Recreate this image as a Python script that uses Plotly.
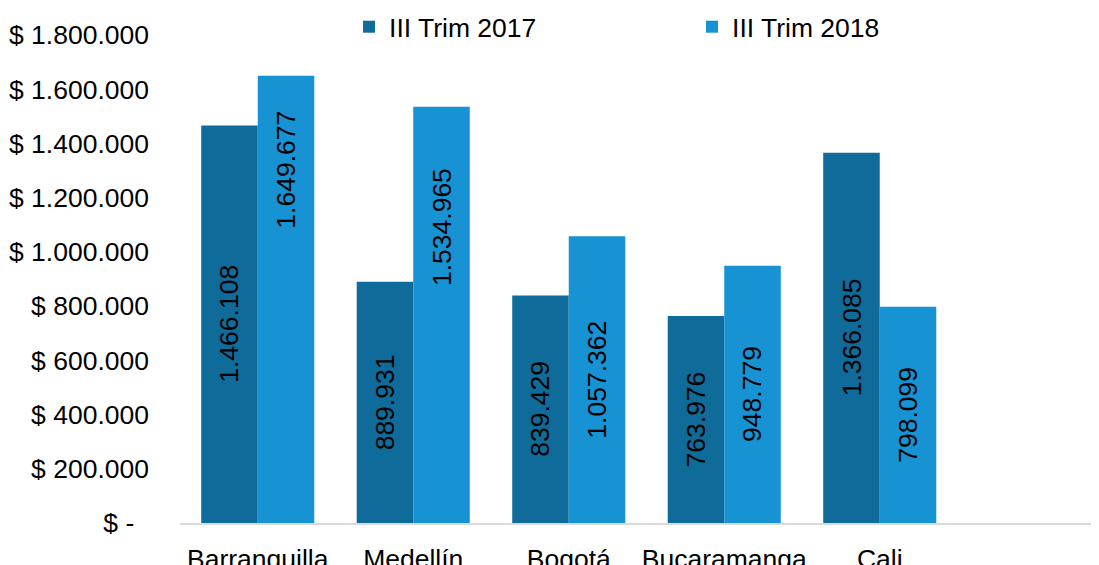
import plotly.graph_objects as go

categories = ["Barranquilla", "Medellín", "Bogotá", "Bucaramanga", "Cali"]
trim_2017 = [1466108, 889931, 839429, 763976, 1366085]
trim_2018 = [1649677, 1534965, 1057362, 948779, 798099]
series_names = ["III Trim 2017", "III Trim 2018"]
y_tickvals = [0, 200000, 400000, 600000, 800000, 1000000, 1200000, 1400000, 1600000, 1800000]
y_ticktext = ["$ -\u00a0\u00a0", "$ 200.000", "$ 400.000", "$ 600.000", "$ 800.000",
              "$ 1.000.000", "$ 1.200.000", "$ 1.400.000", "$ 1.600.000", "$ 1.800.000"]

# style: where the data label sits inside each bar (fraction of bar height)
label_frac_2017 = [0.5, 0.5, 0.5, 0.5, 0.5]
label_frac_2018 = [0.79, 0.71, 0.5, 0.5, 0.5]

DARK = "#0F6B99"
LIGHT = "#1792D2"
FONT = "Arial, Liberation Sans, sans-serif"
FS = 26.5


def fmt(v):
    return f"{v:,}".replace(",", ".")


fig = go.Figure()
fig.add_trace(go.Bar(x=categories, y=trim_2017, name=series_names[0],
                     marker=dict(color=DARK, line=dict(width=0))))
fig.add_trace(go.Bar(x=categories, y=trim_2018, name=series_names[1],
                     marker=dict(color=LIGHT, line=dict(width=0))))

annotations = []
for vals, fracs, shift in ((trim_2017, label_frac_2017, -28.25), (trim_2018, label_frac_2018, 28.25)):
    for c, v, f in zip(categories, vals, fracs):
        annotations.append(dict(x=c, y=v * f, xref="x", yref="y", text=fmt(v),
                                textangle=-90, showarrow=False, xshift=shift,
                                font=dict(family=FONT, size=FS, color="#000000")))

fig.update_layout(
    width=1099, height=565,
    margin=dict(l=172, r=8, t=27, b=50, autoexpand=False),
    paper_bgcolor="white", plot_bgcolor="white",
    barmode="group", bargap=0.273, bargroupgap=0,
    font=dict(family=FONT, size=FS, color="#000000"),
    showlegend=True,
    legend=dict(orientation="h", xref="container", yref="container",
                x=0.3103, xanchor="left", y=0.9664, yanchor="middle",
                font=dict(family=FONT, size=FS, color="#000000"),
                entrywidth=298, entrywidthmode="pixels",
                bgcolor="rgba(0,0,0,0)", itemclick=False),
    annotations=annotations,
)
fig.update_xaxes(type="category", range=[-0.5, 5.41], showgrid=False, automargin=False,
                 showline=True, linecolor="#D9D9D9", linewidth=2,
                 ticks="", ticklabelstandoff=11,
                 tickfont=dict(family=FONT, size=FS, color="#000000"))
fig.update_yaxes(range=[0, 1800000], tickvals=y_tickvals, ticktext=y_ticktext,
                 showgrid=False, zeroline=False, showline=False, ticks="", automargin=False,
                 ticklabelstandoff=30,
                 tickfont=dict(family=FONT, size=FS, color="#000000"))

fig.write_html("out.html")
